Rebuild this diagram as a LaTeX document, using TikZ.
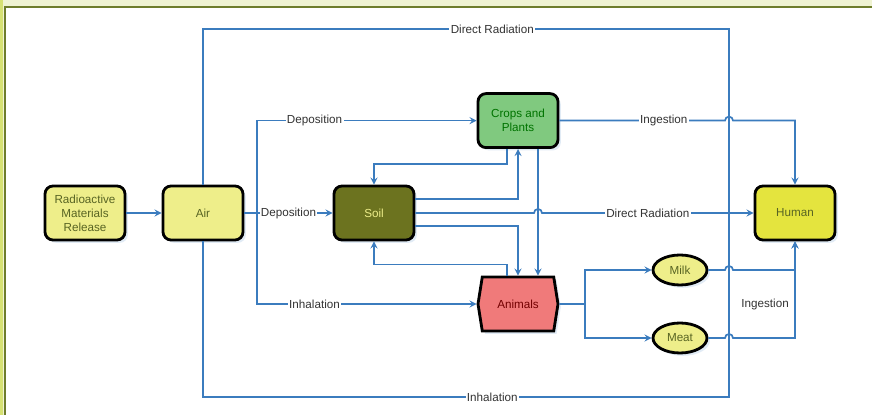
\documentclass[tikz,border=0pt]{standalone}
\usepackage{fontspec}
\setmainfont{Liberation Sans}
\usetikzlibrary{shapes.geometric,shapes.symbols,calc,shadows}

\definecolor{flow}{HTML}{3B7CBE}
\definecolor{pale}{HTML}{EEEE8A}
\definecolor{humanfill}{HTML}{E4E43E}
\definecolor{soilfill}{HTML}{6C731F}
\definecolor{cropfill}{HTML}{80C97F}
\definecolor{animalfill}{HTML}{F07A7A}
\definecolor{bandcol}{HTML}{EFF3D2}
\definecolor{stripcol}{HTML}{D6E173}
\definecolor{edgecol}{HTML}{6E7D2C}

\begin{document}
\begin{tikzpicture}
  \useasboundingbox (0,0) rectangle (21.8,10.375);
  % frame
  \fill[bandcol] (0,0) rectangle (21.8,10.375);
  \fill[stripcol] (0,0) rectangle (0.08,10.375);
  \fill[white] (0.12,0) rectangle (21.8,10.2);
  \draw[edgecol, line width=1pt] (0.12,0) -- (0.12,10.2) -- (21.8,10.2);

  \begin{scope}[every node/.style={rectangle, rounded corners=0.2cm, draw, line width=2pt, minimum width=2cm, minimum height=1.35cm, align=center, font=\fontsize{8.3}{10}\selectfont, drop shadow={shadow xshift=2pt, shadow yshift=-2pt, opacity=0.25, fill=flow!60}}]
    \node [fill=pale, text=edgecol!80!black] (0) at (2.125,5.05) {Radioactive\\Materials\\Release};
    \node [fill=pale, text=edgecol!80!black] (1) at (5.075,5.05) {Air};
    \node [fill=soilfill, text=pale] (2) at (9.35,5.05) {Soil};
    \node [fill=cropfill, text=green!45!black] (3) at (12.95,7.36) {Crops and\\Plants};
    \node [signal, signal to=west and east, signal pointer angle=162, sharp corners, fill=animalfill, text=red!45!black] (4) at (12.95,2.775) {Animals};
    \node [fill=humanfill, text=edgecol!80!black] (5) at (19.875,5.05) {Human};
    \node [ellipse, minimum width=1.35cm, minimum height=0.75cm, fill=pale, text=edgecol!80!black] (6) at (17,3.625) {Milk};
    \node [ellipse, minimum width=1.35cm, minimum height=0.75cm, fill=pale, text=edgecol!80!black] (7) at (17,1.925) {Meat};
  \end{scope}

  \coordinate (j) at (6.425,5.05);
  \coordinate (k) at (14.625,2.775);

  \begin{scope}[flow, line width=1.2pt, >=stealth, lbl/.style={fill=white, inner sep=1pt, text=black!80, font=\fontsize{8.3}{10}\selectfont}]
    \draw[->] (0) -- (1);
    \draw (1) |- node[lbl, pos=0.775] {Direct Radiation} (18.225,9.65) -- (18.225,5.05);
    \draw (1) |- node[lbl, pos=0.775] {Inhalation} (18.225,0.45) -- (18.225,5.05);
    \draw[->] (1) -- node[lbl] {Deposition} (2);
    \draw[->] (j) |- node[lbl, pos=0.631] {Deposition} (3);
    \draw[->] (j) |- node[lbl, pos=0.631] {Inhalation} (4);

    \draw[->] ($(3.south)+(-0.275,0)$) -- ++(0,-0.375) -| (2);
    \draw[->] ($(2.east)+(0,0.35)$) -| (3);
    \draw[->] ($(2.east)+(0,-0.325)$) -| (4);
    \draw[->] ($(3.south)+(0.5,0)$) -- ($(4.north)+(0.5,0)$);
    \draw[->] ($(4.north)+(-0.275,0)$) -- ++(0,0.275) -| (2);

    \draw[->] (2) -- (13.35,5.05) arc[start angle=180, end angle=0, radius=0.1cm] -- node[lbl] {Direct Radiation} (5);
    \draw[->] (3) -- node[lbl, pos=0.63] {Ingestion} (18.125,7.36) arc[start angle=180, end angle=0, radius=0.1cm] -| (5);

    \draw (4) -- (k);
    \draw[->] (k) |- (6);
    \draw[->] (k) |- (7);
    \draw[->] (6) -- (18.125,3.625) arc[start angle=180, end angle=0, radius=0.1cm] -| (5);
    \draw[->] (7) -- (18.125,1.925) arc[start angle=180, end angle=0, radius=0.1cm] -| node[lbl, pos=0.673, fill=none, left=0.1cm] {Ingestion} (5);
  \end{scope}
\end{tikzpicture}
\end{document}
